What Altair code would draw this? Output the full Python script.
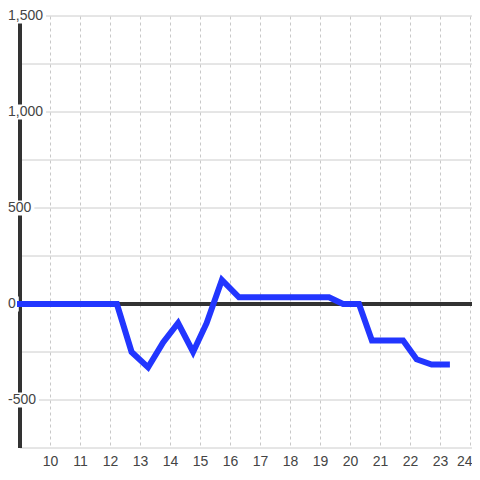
import altair as alt
import pandas as pd

# ---- data ----
xs = [8.9, 12.23, 12.72, 13.27, 13.77, 14.27, 14.77, 15.22, 15.73, 16.3,
      19.3, 19.77, 20.3, 20.73, 21.77, 22.22, 22.72, 23.33]
ys = [0, 0, -250, -330, -200, -99, -250, -100, 125, 35,
      35, 0, 0, -190, -190, -288, -315, -315]
x_ticks = list(range(10, 25))
y_grid = list(range(-750, 1501, 250))
y_label_values = [1500, 1000, 500, 0, -500]
y_label_text = ["1,500", "1,000", "500", "0", "-500"]

# ---- layout constants (page pixels) ----
PAGE_MARGIN = 8
X0 = 9                       # value at the y-axis line
PX_PER_X = 30                # pixels per x unit
AXIS_PX = 20                 # page x of y-axis line
Y_MIN, Y_MAX = -750, 1500
PLOT_H = 432
PLOT_W = 480 - 2 * PAGE_MARGIN
VAL_PER_PX = (Y_MAX - Y_MIN) / PLOT_H
FONT = "Liberation Sans"
FS = 14
LABEL_X_PX = 8               # page x of y labels' left edge


def px_to_x(p):
    return X0 + (p - AXIS_PX) / PX_PER_X


X_MIN = px_to_x(PAGE_MARGIN)
X_MAX = px_to_x(PAGE_MARGIN + PLOT_W)

char_w = {",": 0.278, "-": 0.333}


def text_w(s):
    return sum(char_w.get(c, 0.556) for c in s) * FS


line_df = pd.DataFrame({"x": xs, "y": ys})
grid_df = pd.DataFrame({"y": y_grid})
lab_df = pd.DataFrame({"v": y_label_values, "t": y_label_text})
lab_df["x1"] = px_to_x(LABEL_X_PX)
lab_df["x2"] = [px_to_x(LABEL_X_PX + text_w(t) + 3) for t in y_label_text]
lab_df["y1"] = lab_df["v"] - 7.5 * VAL_PER_PX
lab_df["y2"] = lab_df["v"] + 7.5 * VAL_PER_PX

xs_scale = alt.Scale(domain=[X_MIN, X_MAX], nice=False, zero=False)
ys_scale = alt.Scale(domain=[Y_MIN, Y_MAX], nice=False, zero=False)
x_axis = alt.Axis(values=x_ticks, format="d", title=None, grid=True,
                  gridDash=[3, 3], gridColor="#c8c8c8", gridWidth=1,
                  domain=False, ticks=False, labelFont=FONT, labelFontSize=FS,
                  labelColor="#444", labelPadding=6,
                  labelFlush=10, labelFlushOffset=2)

hgrid = alt.Chart(grid_df).mark_rule(color="#cccccc", strokeWidth=1).encode(
    x=alt.datum(X0, scale=xs_scale, axis=x_axis),
    x2=alt.datum(X_MAX),
    y=alt.Y("y:Q", scale=ys_scale, axis=None),
)

zero = alt.Chart(grid_df).mark_rule(color="#333333", strokeWidth=3.5).encode(
    x=alt.datum(X0, scale=xs_scale, axis=x_axis),
    x2=alt.datum(X_MAX),
    y=alt.datum(0, scale=ys_scale, axis=None),
)

yaxis = alt.Chart(grid_df).mark_rule(color="#333333", strokeWidth=3.5).encode(
    x=alt.datum(X0, scale=xs_scale, axis=x_axis),
    y=alt.datum(Y_MIN, scale=ys_scale, axis=None),
    y2=alt.datum(Y_MAX),
)

masks = alt.Chart(lab_df).mark_rect(color="white").encode(
    x=alt.X("x1:Q", scale=xs_scale, axis=x_axis),
    x2="x2:Q",
    y=alt.Y("y1:Q", scale=ys_scale, axis=None),
    y2="y2:Q",
)

labels = alt.Chart(lab_df).mark_text(
    align="left", baseline="middle", font=FONT, fontSize=FS, color="#444"
).encode(
    x=alt.value(LABEL_X_PX - PAGE_MARGIN),
    y=alt.Y("v:Q", scale=ys_scale, axis=None),
    text="t:N",
)

line = alt.Chart(line_df).mark_line(color="#2236ff", strokeWidth=6).encode(
    x=alt.X("x:Q", scale=xs_scale, axis=x_axis),
    y=alt.Y("y:Q", scale=ys_scale, axis=None),
)

chart = alt.layer(hgrid, zero, yaxis, masks, labels, line).properties(
    width=PLOT_W, height=PLOT_H,
    autosize=alt.AutoSizeParams(type="none"),
    padding={"left": 0, "top": 8, "right": 0, "bottom": 24},
    background="white",
).configure_view(stroke=None)

chart.save("out.html", embed_options={"renderer": "svg", "actions": False})
